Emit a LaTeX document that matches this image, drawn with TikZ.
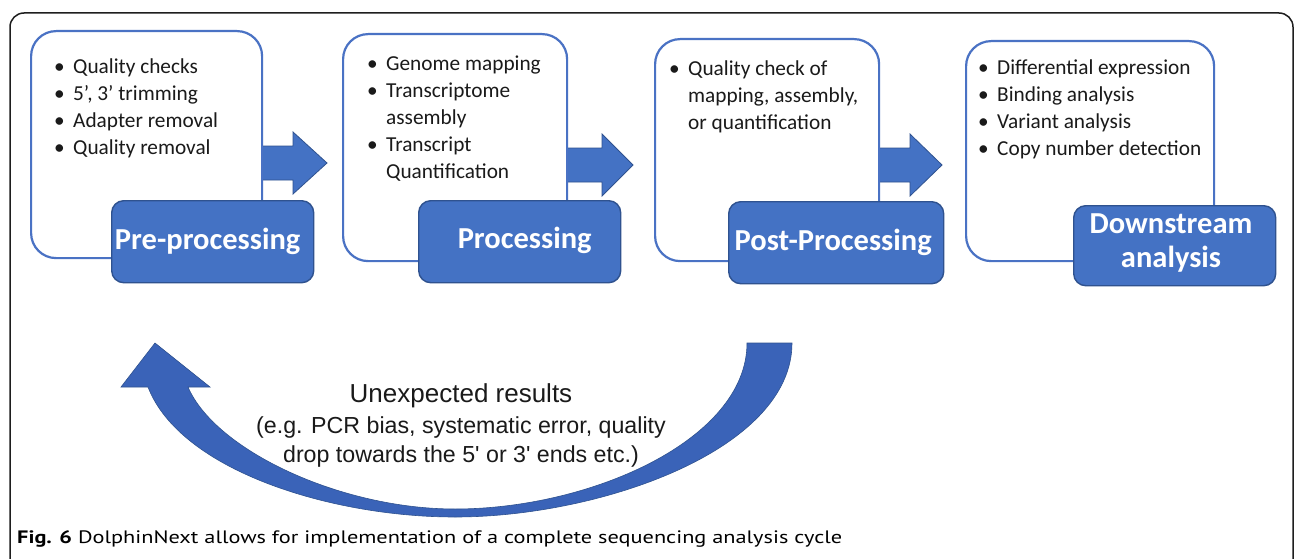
\documentclass[tikz,border=0pt]{standalone}
\usepackage{fontspec}
\setmainfont{Carlito}
\newfontfamily\arialfont{Liberation Sans}
\newfontfamily\capfont{PT Sans}
\definecolor{boxblue}{HTML}{4A72C4}
\definecolor{labblue}{HTML}{4472C4}
\definecolor{labborder}{HTML}{2F528F}
\definecolor{arrblue}{HTML}{4472C4}
\definecolor{curvblue}{HTML}{3A63B8}
\definecolor{textcol}{HTML}{1A1A1A}
\definecolor{framecol}{HTML}{1E1E1E}
\newsavebox\capbox
\newcommand\bitem{\makebox[19pt][l]{\textbullet}}
\newcommand\bcont{\hspace*{19pt}}
\newcommand\barrow[4]{% x start, x head base, x tip, y center
  \draw[sarrow] (#1,{#4-17}) -- (#2,{#4-17}) -- (#2,{#4-31}) -- (#3,#4) -- (#2,{#4+31}) -- (#2,{#4+17}) -- (#1,{#4+17}) -- cycle;}
\begin{document}
\sbox\capbox{\capfont\fontsize{18}{22}\selectfont\textbf{Fig. 6} DolphinNext allows for implementation of a complete sequencing analysis cycle}%
\pgfmathsetmacro\capsx{825/\the\wd\capbox}%
\begin{tikzpicture}[x=1pt,y=-1pt,
  box/.style={draw=boxblue, line width=2.2pt, rounded corners=25pt, fill=white, inner sep=0pt},
  lab/.style={draw=labborder, line width=1.4pt, fill=labblue, rounded corners=12pt, inner sep=0pt},
  sarrow/.style={fill=arrblue, draw=labborder, line width=0.8pt},
  carrow/.style={fill=curvblue, draw=labborder, line width=0.6pt},
  btext/.style={font=\fontsize{21.3}{27}\selectfont, text=textcol, anchor=base west, inner sep=0pt},
  ltext/.style={font=\bfseries\fontsize{30.5}{34}\selectfont, text=white, anchor=base, inner sep=0pt},
  utext/.style={font=\arialfont\fontsize{23.2}{29}\selectfont, text=textcol, anchor=base, inner sep=0pt}]
\useasboundingbox (0,0) rectangle (1295,559);
\fill[white] (0,0) rectangle (1295,559);
% outer frame
\draw[framecol, line width=1.5pt, rounded corners=14pt] (10,600) -- (10,13) -- (1293,13) -- (1293,600);
% block arrows
\barrow{255}{293}{327}{163}
\barrow{560}{602}{633}{165}
\barrow{872}{910}{942}{165}
% white boxes
\node[box, anchor=north west, minimum width=231pt, minimum height=227pt] (b1) at (30,30) {};
\node[box, anchor=north west, minimum width=224pt, minimum height=227pt] (b2) at (342,33) {};
\node[box, anchor=north west, minimum width=224pt, minimum height=222pt] (b3) at (654,38) {};
\node[box, anchor=north west, minimum width=248pt, minimum height=220pt] (b4) at (965,40) {};
% labels
\node[lab, anchor=north west, minimum width=202pt, minimum height=82pt] (l1) at (111,200) {};
\node[lab, anchor=north west, minimum width=202pt, minimum height=82pt] (l2) at (418,200) {};
\node[lab, anchor=north west, minimum width=215pt, minimum height=82pt] (l3) at (728,201) {};
\node[lab, anchor=north west, minimum width=202pt, minimum height=80pt] (l4) at (1073,205) {};
\node[ltext] (t1) at ([xshift=-5pt,yshift=-8pt]l1.center) {Pre-processing};
\node[ltext] (t2) at ([xshift=5pt,yshift=-7pt]l2.center) {Processing};
\node[ltext] (t3) at ([xshift=-3pt,yshift=-8pt]l3.center) {Post-Processing};
\node[ltext] (t4) at (1171,233) {\begin{tabular}[t]{@{}c@{}}Downstream\\analysis\end{tabular}};
% bullet texts
\node[btext] (x1) at (54,74) {\begin{tabular}[t]{@{}l@{}}\bitem Quality checks\\\bitem 5’, 3’ trimming\\\bitem Adapter removal\\\bitem Quality removal\end{tabular}};
\node[btext] (x2) at (367,71) {\begin{tabular}[t]{@{}l@{}}\bitem Genome mapping\\\bitem Transcriptome\\\bcont assembly\\\bitem Transcript\\\bcont Quantification\end{tabular}};
\node[btext] (x3) at (669,76) {\begin{tabular}[t]{@{}l@{}}\bitem Quality check of\\\bcont mapping, assembly,\\\bcont or quantification\end{tabular}};
\node[btext] (x4) at (978,75) {\begin{tabular}[t]{@{}l@{}}\bitem Differential expression\\\bitem Binding analysis\\\bitem Variant analysis\\\bitem Copy number detection\end{tabular}};
% curved arrow
\draw[carrow] (747,343) -- (792,343) .. controls (792,450) and (600,517) .. (455,517)
  .. controls (330,517) and (180,470) .. (148,387) -- (121,387) -- (155,343) -- (210,387) -- (188,387)
  .. controls (215,450) and (340,509) .. (455,509) .. controls (590,509) and (747,440) .. (747,343) -- cycle;
\node[utext, font=\arialfont\fontsize{26}{30}\selectfont] (ut1) at (461,402) {Unexpected results};
\node[utext] (ut2) at (461,433) {(e.g. PCR bias, systematic error, quality};
\node[utext] (ut3) at (461,462) {drop towards the 5' or 3' ends etc.)};
% caption
\node[anchor=base west, inner sep=0pt, text=textcol] (cap) at (17,543) {\scalebox{\capsx}[1]{\usebox\capbox}};
\end{tikzpicture}
\end{document}
